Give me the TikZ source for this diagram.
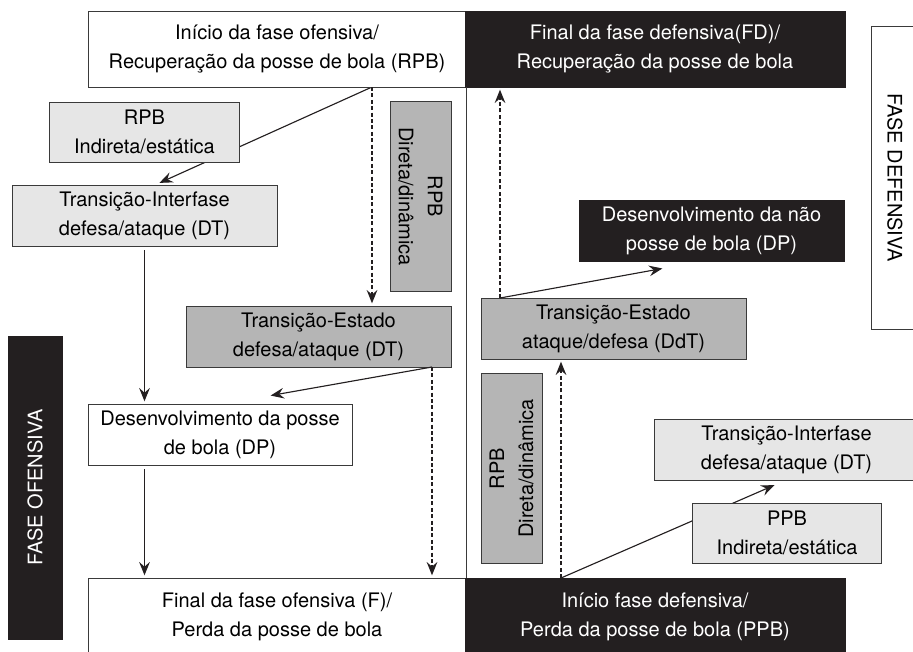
\documentclass[tikz,border=0pt]{standalone}
\usepackage{fontspec}
\setmainfont{TeX Gyre Heros}
\usetikzlibrary{arrows.meta,backgrounds}

\definecolor{boxblack}{HTML}{231F20}
\definecolor{boxlight}{HTML}{E6E6E6}
\definecolor{boxdark}{HTML}{B5B5B5}
\definecolor{boxline}{HTML}{3A3A3A}

\begin{document}
\begin{tikzpicture}[x=0.75pt,y=-0.75pt,
  every node/.style={align=center,inner sep=0pt,outer sep=0pt,font=\fontsize{15}{21.75}\selectfont},
  whitebox/.style={draw=boxline,line width=0.7pt,fill=white},
  blackbox/.style={draw=boxblack,line width=0.7pt,fill=boxblack,text=white},
  lightbox/.style={draw=boxline,line width=0.7pt,fill=boxlight},
  darkbox/.style={draw=boxline,line width=0.7pt,fill=boxdark},
  phase/.style={minimum width=283.5pt,minimum height=57pt},
  stepbox/.style={minimum width=198.75pt,minimum height=45.75pt},
  smallbox/.style={minimum width=142pt,minimum height=45pt},
  sidebox/.style={minimum width=227.25pt},
  flow/.style={-{Stealth[length=10pt,width=8pt,inset=3.5pt]},line width=0.85pt,draw=boxblack,shorten >=2pt},
  dflow/.style={flow,dash pattern=on 3pt off 1.8pt}]

\useasboundingbox (0,0) rectangle (913,651);

% Phase boxes, top and bottom
\node[whitebox,phase] (ini) at (277,49) {Início da fase ofensiva/\\Recuperação da posse de bola (RPB)};
\node[blackbox,phase,minimum width=285pt] (fd) at (655,49) {Final da fase defensiva(FD)/\\Recuperação da posse de bola};
\node[whitebox,phase,minimum height=58.5pt] (ffo) at (277,617) {Final da fase ofensiva (F)/\\Perda da posse de bola};
\node[blackbox,phase,minimum width=285pt,minimum height=58.5pt] (ifd) at (655,617) {Início fase defensiva/\\Perda da posse de bola (PPB)};

% Side labels
\node[blackbox,sidebox,minimum height=40.5pt,rotate=90] (fof) at (35,487.5) {FASE OFENSIVA};
\node[whitebox,sidebox,minimum height=36pt,rotate=-90] (fdef) at (895,177.5) {FASE DEFENSIVA};

% Offensive side
\node[lightbox,smallbox] (rpbI) at (144.5,132) {RPB\\Indireta/estática};
\node[lightbox,stepbox] (tifL) at (144.5,215.5) {Transição-Interfase\\defesa/ataque (DT)};
\node[darkbox,smallbox,minimum height=45.75pt,rotate=-90] (rpbDL) at (420.5,196.5) {RPB\\Direta/dinâmica};
\node[darkbox,stepbox] (teL) at (318.5,336.5) {Transição-Estado\\defesa/ataque (DT)};
\node[whitebox,stepbox,minimum width=198pt] (dpL) at (220,434.5) {Desenvolvimento da posse\\de bola (DP)};

% Defensive side
\node[blackbox,stepbox] (dnp) at (711.5,230.5) {Desenvolvimento da não\\posse de bola (DP)};
\node[darkbox,stepbox] (teR) at (613.5,328.5) {Transição-Estado\\ataque/defesa (DdT)};
\node[darkbox,smallbox,minimum height=45.75pt,rotate=90] (rpbDR) at (511.5,468.5) {RPB\\Direta/dinâmica};
\node[lightbox,stepbox] (tifR) at (786.5,449.5) {Transição-Interfase\\defesa/ataque (DT)};
\node[lightbox,smallbox] (ppbI) at (787,533) {PPB\\Indireta/estática};

% Divider between the two phases
\draw[boxline,line width=0.7pt] (ini.south east) -- (ffo.north east);

% Helper points for the arrows
\coordinate (xa) at (372,0);
\coordinate (xc) at (432,0);
\coordinate (xd) at (500,0);
\coordinate (xe) at (561,0);
\coordinate (tifLIn) at (157,184);
\coordinate (dpIn) at (268,396);
\coordinate (dnpIn) at (665,268);
\coordinate (tifRIn) at (777,484);

% Draw the arrows between the nodes
\begin{pgfonlayer}{background}
\draw[flow] (ini.south -| xa) -- (tifLIn);
\draw[flow] (ifd.north -| xe) -- (tifRIn);
\end{pgfonlayer}
\draw[dflow] (ini.south -| xa) -- (teL.north -| xa);
\draw[flow,shorten <=3pt] (tifL.south) -- (dpL.north -| tifL.south);
\draw[flow,shorten <=3pt] (dpL.south -| tifL.south) -- (ffo.north -| tifL.south);
\draw[flow] (teL.south -| xc) -- (dpIn);
\draw[dflow] (teL.south -| xc) -- (ffo.north -| xc);
\draw[dflow] (teR.north -| xd) -- (fd.south -| xd);
\draw[flow] (teR.north -| xd) -- (dnpIn);
\draw[dflow] (ifd.north -| xe) -- (teR.south -| xe);

\end{tikzpicture}
\end{document}
